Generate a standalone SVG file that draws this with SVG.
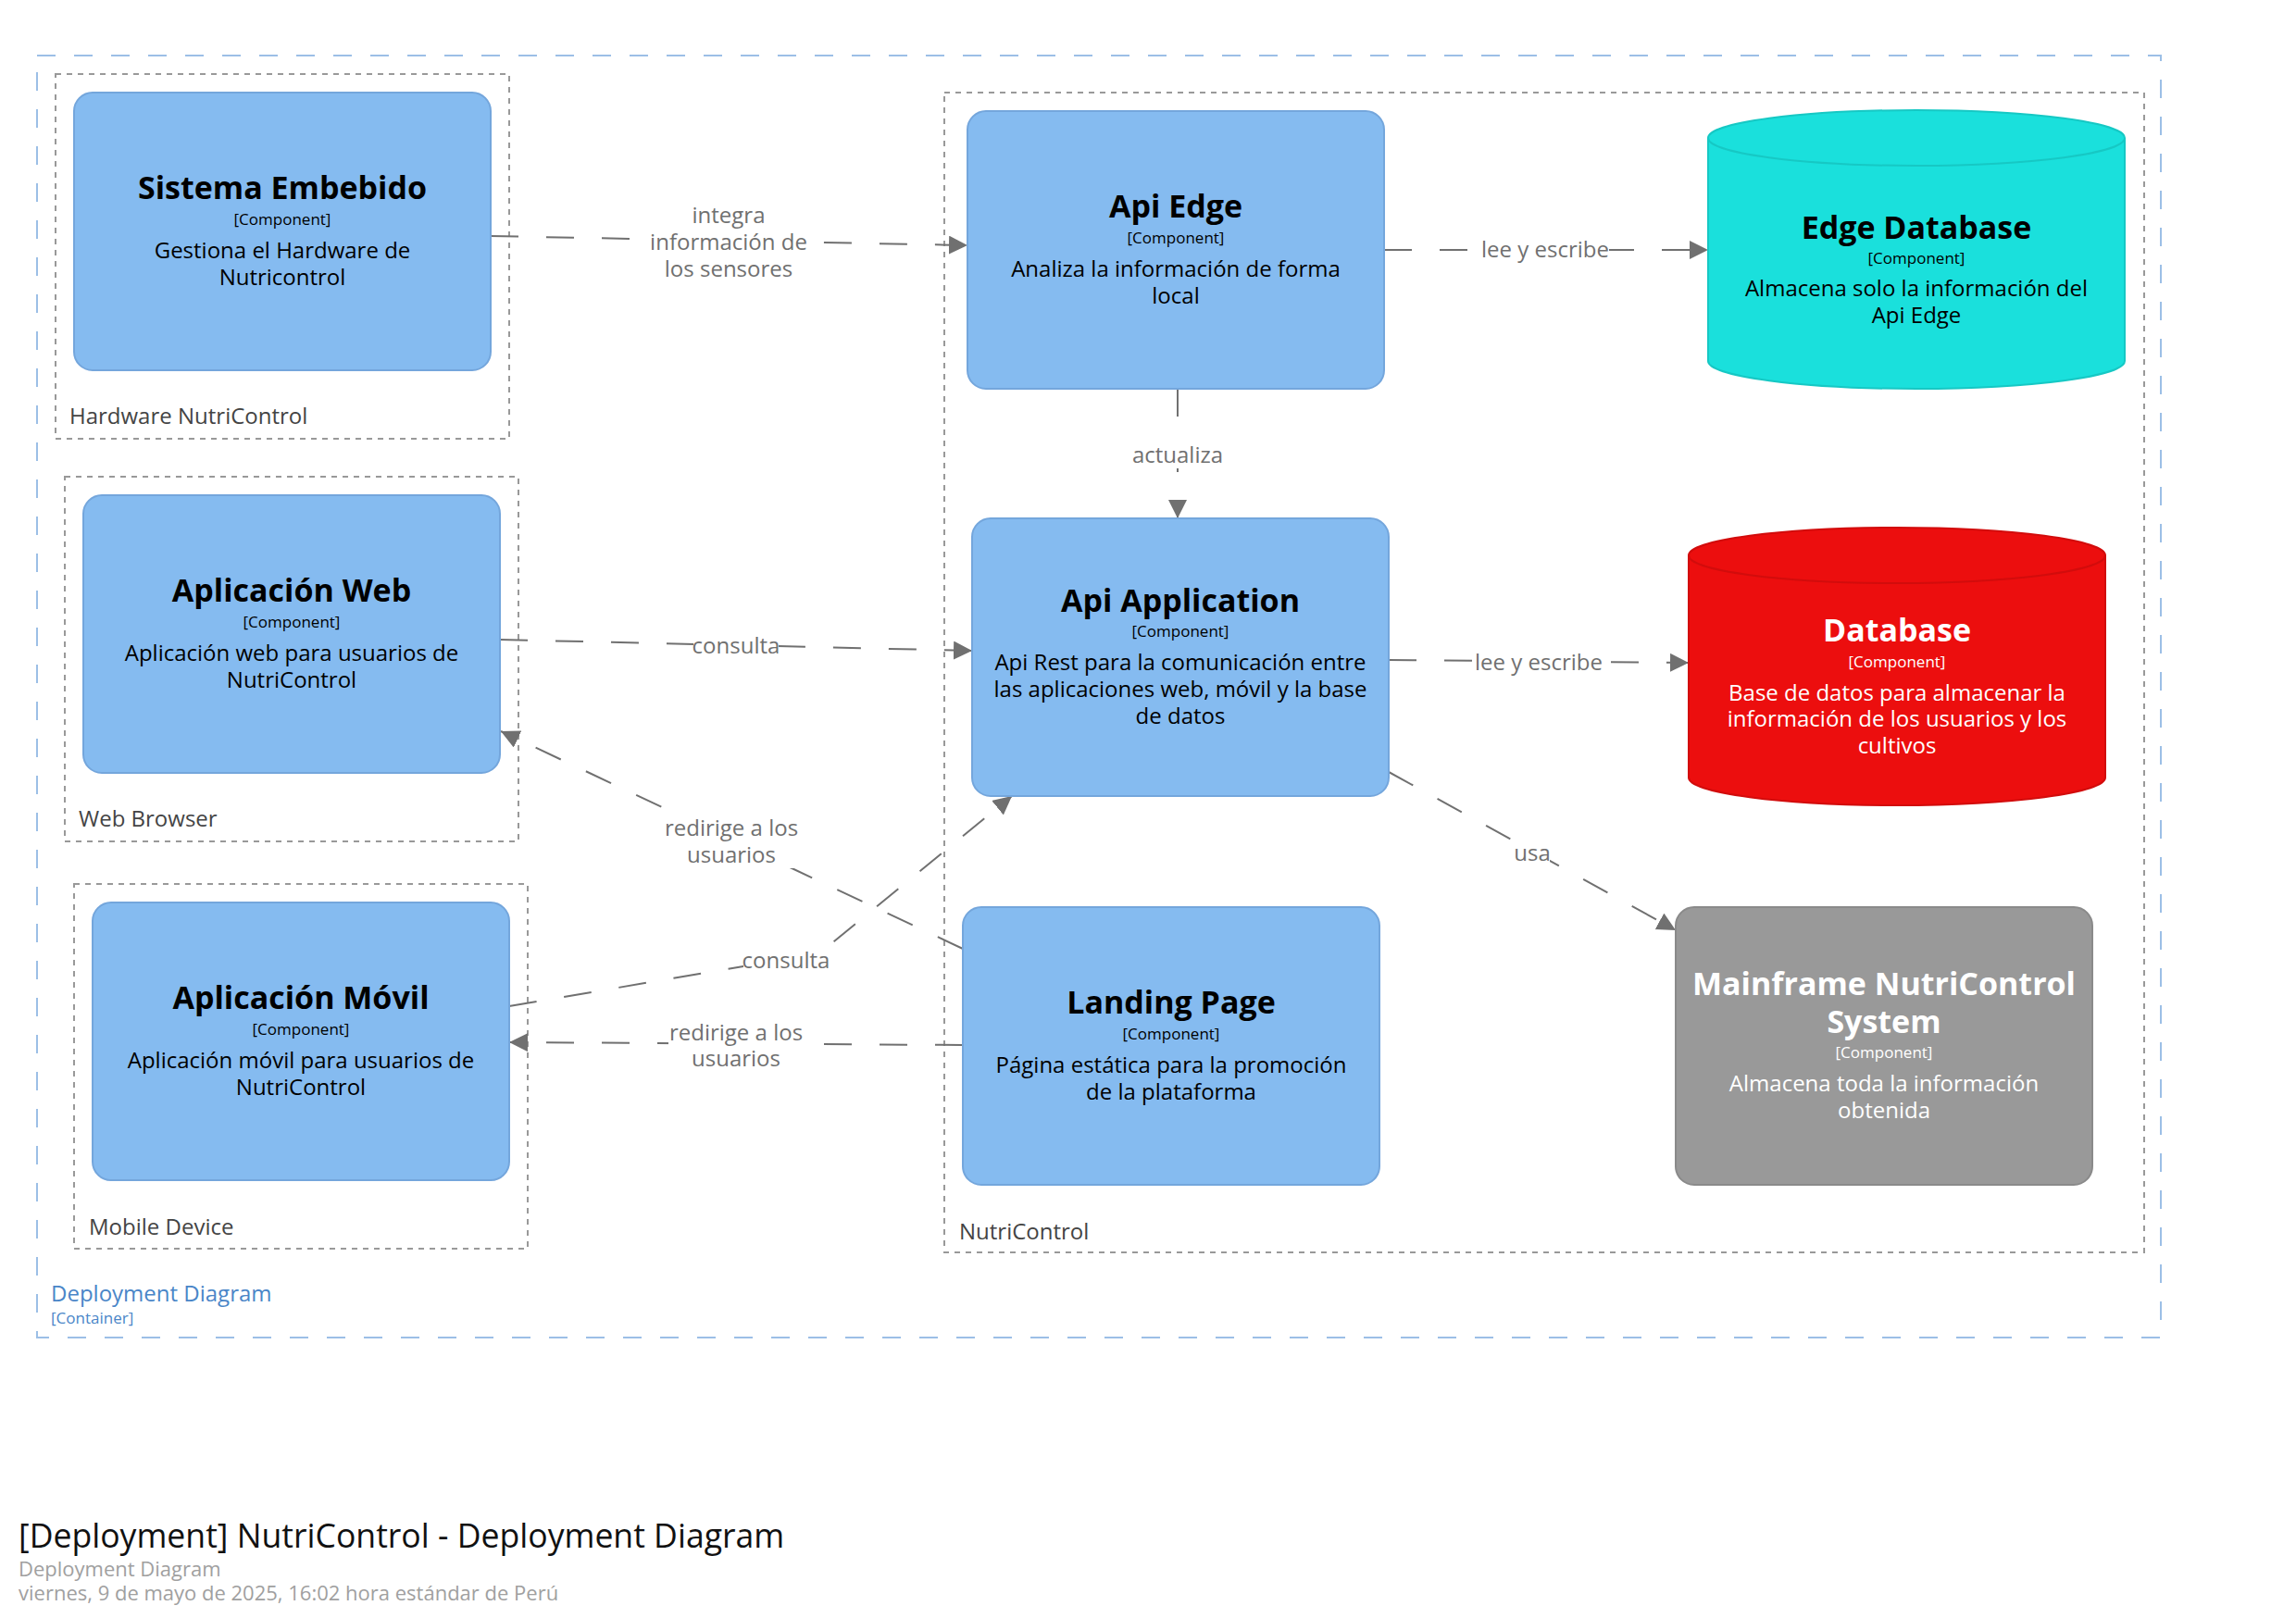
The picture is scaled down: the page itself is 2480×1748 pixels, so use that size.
<svg xmlns="http://www.w3.org/2000/svg" width="2480" height="1748" viewBox="0 0 2480 1748">
<style>
text{font-family:"Open Sans","Noto Sans","DejaVu Sans",sans-serif}
.node{fill:#85bbf0;stroke:#74a6dc;stroke-width:2}
.ttl{font-size:34px;font-weight:bold;text-anchor:middle;fill:#000}
.meta{font-size:17px;text-anchor:middle;fill:#000}
.desc{font-size:24px;text-anchor:middle;fill:#000}
.w{fill:#fff}
.bnd{fill:none;stroke:#999;stroke-width:2;stroke-dasharray:6,6}
.blbl{font-size:24px;fill:#444}
.conn{fill:none;stroke:#707070;stroke-width:2;stroke-dasharray:30,30;marker-end:url(#arr)}
.clbl{font-size:24px;fill:#707070;text-anchor:middle}
.lbg{fill:#fff}
</style>
<defs>
<marker id="arr" markerUnits="userSpaceOnUse" markerWidth="22" markerHeight="22" refX="20" refY="10" orient="auto">
<path d="M0,0 L20,10 L0,20 Z" fill="#707070"/>
</marker>
</defs>
<rect width="2480" height="1748" fill="#fff"/>

<g id="container">
<rect x="40" y="60" width="2294" height="1385" fill="none" stroke="#9cbfe6" stroke-width="2" stroke-dasharray="20,20"/>
<text x="55" y="1406" style="font-size:24px;fill:#4a86c8">Deployment Diagram</text>
<text x="55" y="1430" style="font-size:17px;fill:#4a86c8">[Container]</text>
</g>

<g id="boundary-hardware">
<rect class="bnd" x="60" y="80" width="490" height="394"/>
<text class="blbl" x="75" y="458">Hardware NutriControl</text>
</g>
<g id="boundary-webbrowser">
<rect class="bnd" x="70" y="515" width="490" height="394"/>
<text class="blbl" x="85" y="893">Web Browser</text>
</g>
<g id="boundary-mobile">
<rect class="bnd" x="80" y="955" width="490" height="394"/>
<text class="blbl" x="96" y="1334">Mobile Device</text>
</g>
<g id="boundary-nutricontrol">
<rect class="bnd" x="1020" y="100" width="1296" height="1253"/>
<text class="blbl" x="1036" y="1339">NutriControl</text>
</g>

<g id="connectors">
<path class="conn" d="M530,255 L1045,265"/>
<path class="conn" d="M1495,270 L1845,270"/>
<path class="conn" d="M1272,420 L1272,560"/>
<path class="conn" d="M540,691 L1050,703"/>
<path class="conn" d="M1500,713 L1824,716"/>
<path class="conn" d="M1500,834 L1810,1005"/>
<path class="conn" d="M1040,1025 L541,790"/>
<path class="conn" d="M550,1087 L885,1030 L1093,860"/>
<path class="conn" d="M1040,1129 L550,1126"/>
</g>

<g id="connector-labels">
<rect class="lbg" x="700" y="218" width="174" height="88"/>
<text class="clbl" x="787" y="241">integra</text>
<text class="clbl" x="787" y="270">información de</text>
<text class="clbl" x="787" y="299">los sensores</text>
<rect class="lbg" x="1600" y="256" width="138" height="28"/>
<text class="clbl" x="1669" y="278">lee y escribe</text>
<rect class="lbg" x="1224" y="478" width="96" height="28"/>
<text class="clbl" x="1272" y="500">actualiza</text>
<rect class="lbg" x="749" y="684" width="92" height="28"/>
<text class="clbl" x="795" y="706">consulta</text>
<rect class="lbg" x="1593" y="702" width="138" height="28"/>
<text class="clbl" x="1662" y="724">lee y escribe</text>
<rect class="lbg" x="1636" y="908" width="38" height="28"/>
<text class="clbl" x="1655" y="930">usa</text>
<rect class="lbg" x="717" y="880" width="146" height="58"/>
<text class="clbl" x="790" y="903">redirige a los</text>
<text class="clbl" x="790" y="932">usuarios</text>
<rect class="lbg" x="803" y="1024" width="93" height="28"/>
<text class="clbl" x="849" y="1046">consulta</text>
<rect class="lbg" x="722" y="1101" width="146" height="58"/>
<text class="clbl" x="795" y="1124">redirige a los</text>
<text class="clbl" x="795" y="1152">usuarios</text>
</g>

<g id="node-sistema-embebido">
<rect class="node" x="80" y="100" width="450" height="300" rx="20"/>
<text class="ttl" x="305" y="215">Sistema Embebido</text>
<text class="meta" x="305" y="243">[Component]</text>
<text class="desc" x="305" y="279">Gestiona el Hardware de</text>
<text class="desc" x="305" y="308">Nutricontrol</text>
</g>

<g id="node-aplicacion-web">
<rect class="node" x="90" y="535" width="450" height="300" rx="20"/>
<text class="ttl" x="315" y="650">Aplicación Web</text>
<text class="meta" x="315" y="678">[Component]</text>
<text class="desc" x="315" y="714">Aplicación web para usuarios de</text>
<text class="desc" x="315" y="743">NutriControl</text>
</g>

<g id="node-aplicacion-movil">
<rect class="node" x="100" y="975" width="450" height="300" rx="20"/>
<text class="ttl" x="325" y="1090">Aplicación Móvil</text>
<text class="meta" x="325" y="1118">[Component]</text>
<text class="desc" x="325" y="1154">Aplicación móvil para usuarios de</text>
<text class="desc" x="325" y="1183">NutriControl</text>
</g>

<g id="node-api-edge">
<rect class="node" x="1045" y="120" width="450" height="300" rx="20"/>
<text class="ttl" x="1270" y="235">Api Edge</text>
<text class="meta" x="1270" y="263">[Component]</text>
<text class="desc" x="1270" y="299">Analiza la información de forma</text>
<text class="desc" x="1270" y="328">local</text>
</g>

<g id="node-api-application">
<rect class="node" x="1050" y="560" width="450" height="300" rx="20"/>
<text class="ttl" x="1275" y="661">Api Application</text>
<text class="meta" x="1275" y="688">[Component]</text>
<text class="desc" x="1275" y="724">Api Rest para la comunicación entre</text>
<text class="desc" x="1275" y="753">las aplicaciones web, móvil y la base</text>
<text class="desc" x="1275" y="782">de datos</text>
</g>

<g id="node-landing-page">
<rect class="node" x="1040" y="980" width="450" height="300" rx="20"/>
<text class="ttl" x="1265" y="1095">Landing Page</text>
<text class="meta" x="1265" y="1123">[Component]</text>
<text class="desc" x="1265" y="1159">Página estática para la promoción</text>
<text class="desc" x="1265" y="1188">de la plataforma</text>
</g>

<g id="node-mainframe">
<rect x="1810" y="980" width="450" height="300" rx="20" fill="#999999" stroke="#8a8a8a" stroke-width="2"/>
<text class="ttl w" x="2035" y="1075">Mainframe NutriControl</text>
<text class="ttl w" x="2035" y="1116">System</text>
<text class="meta w" x="2035" y="1143">[Component]</text>
<text class="desc w" x="2035" y="1179">Almacena toda la información</text>
<text class="desc w" x="2035" y="1208">obtenida</text>
</g>

<g id="node-edge-database">
<path d="M1845,149 A225,30 0 0 1 2295,149 L2295,390 A225,30 0 0 1 1845,390 Z" fill="#1ae0dc" stroke="#16c8c4" stroke-width="2"/>
<path d="M1845,149 A225,30 0 0 0 2295,149" fill="none" stroke="#16c8c4" stroke-width="2"/>
<text class="ttl" x="2070" y="258">Edge Database</text>
<text class="meta" x="2070" y="285">[Component]</text>
<text class="desc" x="2070" y="320">Almacena solo la información del</text>
<text class="desc" x="2070" y="349">Api Edge</text>
</g>

<g id="node-database">
<path d="M1824,600 A225,30 0 0 1 2274,600 L2274,840 A225,30 0 0 1 1824,840 Z" fill="#ec0e0e" stroke="#d20c0c" stroke-width="2"/>
<path d="M1824,600 A225,30 0 0 0 2274,600" fill="none" stroke="#d20c0c" stroke-width="2"/>
<text class="ttl w" x="2049" y="693">Database</text>
<text class="meta w" x="2049" y="721">[Component]</text>
<text class="desc w" x="2049" y="757">Base de datos para almacenar la</text>
<text class="desc w" x="2049" y="785">información de los usuarios y los</text>
<text class="desc w" x="2049" y="814">cultivos</text>
</g>

<g id="footer">
<text x="20" y="1672" style="font-size:35.6px;fill:#111">[Deployment] NutriControl - Deployment Diagram</text>
<text x="20" y="1703" style="font-size:22px;fill:#a0a0a0">Deployment Diagram</text>
<text x="20" y="1729" style="font-size:22px;fill:#a0a0a0">viernes, 9 de mayo de 2025, 16:02 hora estándar de Perú</text>
</g>
</svg>
